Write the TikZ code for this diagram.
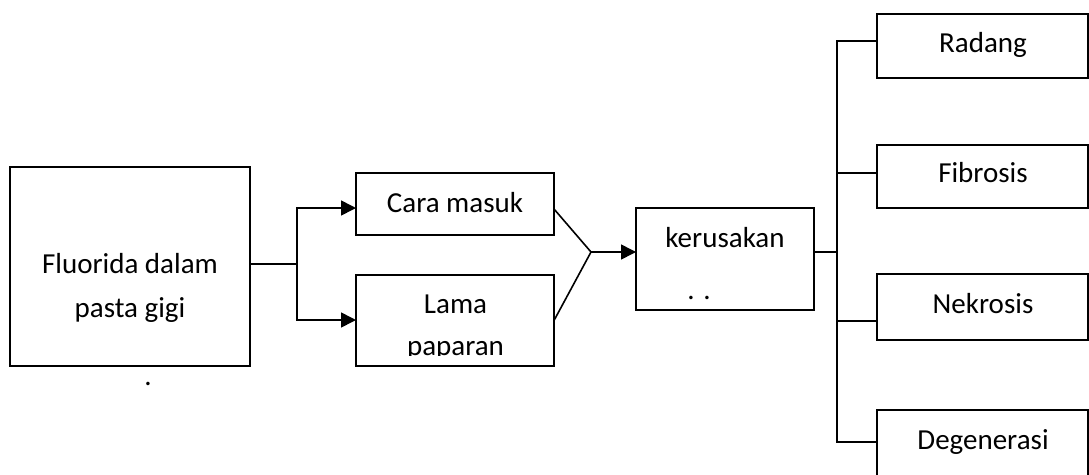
\documentclass[tikz,border=0pt]{standalone}
\usepackage{fontspec}
\setmainfont{Carlito}
\usetikzlibrary{arrows.meta}
\begin{document}
\begin{tikzpicture}[x=1pt,y=-1pt,
  box/.style={draw=black,line width=1.8pt,inner sep=0pt,outer sep=0pt,fill=white},
  txt/.style={inner sep=0pt,anchor=base,font=\fontsize{29pt}{35pt}\selectfont},
  conn/.style={draw=black,line width=1.6pt},
  arr/.style={conn,-{Triangle[length=15pt,width=15pt]}}]
\clip (0,0) rectangle (1089,474);
% boxes
\node[box,minimum width=240pt,minimum height=199pt] (fl) at (130,266.5) {};
\node[box,minimum width=198pt,minimum height=62pt] (cm) at (455,204) {};
\node[box,minimum width=198pt,minimum height=91pt] (lp) at (455,320.5) {};
\node[box,minimum width=178pt,minimum height=102pt] (ku) at (725,259) {};
\node[box,minimum width=211pt,minimum height=64pt] (ra) at (982.5,46) {};
\node[box,minimum width=211pt,minimum height=63pt] (fi) at (982.5,176.5) {};
\node[box,minimum width=211pt,minimum height=66pt] (ne) at (982.5,307) {};
\node[box,minimum width=211pt,minimum height=70pt] (de) at (982.5,445) {};
% texts
\node[txt] (t1) at (130,273) {Fluorida dalam};
\node[txt] (t2) at (130,317) {pasta gigi};
\node[txt] (t3) at (148,385.5) {.};
\node[txt] (t4) at (455,212) {Cara masuk};
\node[txt] (t5) at (455.5,313) {Lama};
\begin{scope}
\clip (357,276) rectangle (553,355);
\node[txt] (t6) at (455.5,355) {paparan};
\end{scope}
\node[txt] (t7) at (725,247) {kerusakan};
\node[txt] (t8) at (699,299) {. .};
\node[txt] (t9) at (983,52) {Radang};
\node[txt] (t10) at (983,182) {Fibrosis};
\node[txt] (t11) at (983,313) {Nekrosis};
\node[txt] (t12) at (983,449) {Degenerasi};
% left fork
\coordinate (j1) at (297,264);
\coordinate (j1t) at (297,208);
\coordinate (j1b) at (297,320);
\draw[conn] (fl.east |- j1) -- (j1);
\draw[arr] (j1) -- (j1t) -- (j1t -| cm.west);
\draw[arr] (j1) -- (j1b) -- (j1b -| lp.west);
% merge
\coordinate (m) at (591,252);
\draw[conn] ([yshift=-5pt]cm.east) -- (m) -- (lp.east);
\draw[arr] (m) -- (m -| ku.west);
% right bus
\coordinate (bus) at (837,252);
\coordinate (b1) at (837,41);
\coordinate (b2) at (837,173);
\coordinate (b3) at (837,321);
\coordinate (b4) at (837,442);
\draw[conn] (ku.east |- bus) -- (bus);
\draw[conn] (b1 -| ra.west) -- (b1) -- (b4) -- (b4 -| de.west);
\draw[conn] (b2) -- (b2 -| fi.west);
\draw[conn] (b3) -- (b3 -| ne.west);
\end{tikzpicture}
\end{document}
